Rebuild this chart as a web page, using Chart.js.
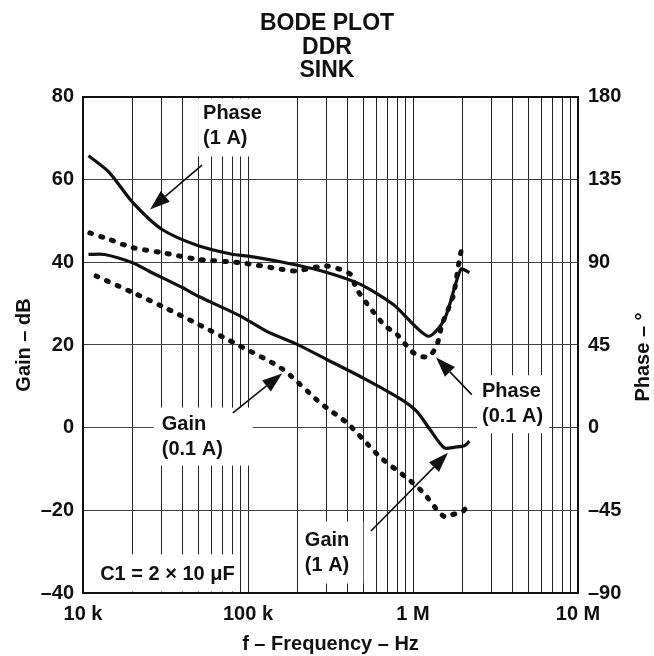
<!DOCTYPE html>
<html>
<head>
<meta charset="utf-8">
<script src="https://cdn.jsdelivr.net/npm/chart.js@4.4.1/dist/chart.umd.min.js"></script>
<style>
  html, body { margin: 0; padding: 0; background: #fff; }
  #wrap { width: 654px; height: 656px; }
</style>
</head>
<body>
<div id="wrap"><canvas id="bode" width="654" height="656"></canvas></div>
<script>
// values (frequency in Hz, gain in dB, phase in degrees)
const freqPhase1A = [10.8e3, 14.4e3, 20e3, 30e3, 50e3, 80e3, 100e3, 160e3, 280e3, 480e3, 760e3, 1.23e6, 1.55e6, 1.95e6, 2.2e6];
const phase1A = [148, 139, 122.6, 108, 99, 94.4, 93.4, 90.2, 85.3, 78, 67, 49.8, 58.9, 86.2, 84.4];

const freqPhase01A = [11e3, 14.4e3, 20e3, 30e3, 50e3, 90e3, 160e3, 195e3, 300e3, 420e3, 450e3, 570e3, 680e3, 800e3, 980e3, 1.1e6, 1.26e6, 1.4e6, 1.5e6, 1.75e6, 1.92e6, 2e6];
const phase01A = [106, 102.5, 98, 95.3, 91.6, 89.8, 86.2, 85.3, 88, 83.4, 76.2, 63.4, 55.3, 50.7, 41.6, 38.9, 38.9, 45.3, 56.2, 71.6, 92.6, 99.8];

const freqGain1A = [10.8e3, 13.5e3, 20e3, 25e3, 40e3, 50e3, 90e3, 130e3, 200e3, 300e3, 500e3, 820e3, 1.05e6, 1.27e6, 1.55e6, 1.8e6, 2.05e6, 2.2e6];
const gain1A = [41.9, 41.9, 39.9, 37.9, 33.9, 31.8, 27, 23.3, 20.1, 16.5, 12, 7.2, 4, -0.5, -4.9, -4.7, -4.4, -3.3];

const freqGain01A = [12e3, 20e3, 30e3, 50e3, 90e3, 160e3, 270e3, 300e3, 400e3, 500e3, 640e3, 920e3, 1.16e6, 1.4e6, 1.55e6, 1.7e6, 2e6, 2.18e6];
const gain01A = [36.7, 32.7, 29.4, 25, 19.7, 14.3, 6.2, 4.8, 1.1, -2.9, -7.3, -12.2, -15.8, -19.9, -21.5, -21.1, -20.3, -18.4];

const xTickValues = [1e4, 1e5, 1e6, 1e7];
const xTickLabels = ['10 k', '100 k', '1 M', '10 M'];

const FONT = "'Liberation Sans', Arial, sans-serif";
const LABEL_FONT = 'bold 20px ' + FONT;
const LINE_H = 25;

// callouts, placed in (frequency, gain dB) units
const notes = [
  { lines: ['Phase', '(1 A)'], at: [53.4e3, 75.9], pad: [5, 5, 14], arrow: [[52.6e3, 63.5], [25.5e3, 52.8]] },
  { lines: ['Phase', '(0.1 A)'], at: [2.62e6, 8.7], pad: [5, 4, 6], arrow: [[2.27e6, 8.0], [1.38e6, 17.0]] },
  { lines: ['Gain', '(0.1 A)'], at: [30e3, 0.85], pad: [8, 4, 30], arrow: [[81e3, 3.6], [161e3, 13.1]] },
  { lines: ['Gain', '(1 A)'], at: [221e3, -27.2], pad: [5, 6, 14], arrow: [[556e3, -25], [1.63e6, -6.1]] },
  { lines: ['C1 = 2 \u00d7 10 \u03bcF'], at: [12.7e3, -35.6], pad: [4, 8, 4] }
];

const dash = (v) => v < 0 ? '\u2013' + Math.abs(v) : '' + v;

function arrow(ctx, x0, y0, x1, y1) {
  const a = Math.atan2(y1 - y0, x1 - x0);
  const L = 20, W = 7;
  const bx = x1 - L * Math.cos(a), by = y1 - L * Math.sin(a);
  ctx.beginPath();
  ctx.moveTo(x0, y0);
  ctx.lineTo(bx, by);
  ctx.stroke();
  ctx.beginPath();
  ctx.moveTo(x1, y1);
  ctx.lineTo(bx + W * Math.sin(a), by - W * Math.cos(a));
  ctx.lineTo(bx - W * Math.sin(a), by + W * Math.cos(a));
  ctx.closePath();
  ctx.fill();
}

const notePlugin = {
  id: 'notes',
  beforeDatasetsDraw(chart) {
    const { ctx, chartArea: ca } = chart;
    const xs = chart.scales.x, ys = chart.scales.yGain;
    ctx.save();
    ctx.beginPath();
    ctx.rect(ca.left + 1.5, ca.top + 1.5, ca.right - ca.left - 3, ca.bottom - ca.top - 3);
    ctx.clip();
    ctx.font = LABEL_FONT;
    ctx.fillStyle = '#fff';
    notes.forEach(n => {
      const x = xs.getPixelForValue(n.at[0]);
      const y = ys.getPixelForValue(n.at[1]);
      const w = Math.max(...n.lines.map(t => ctx.measureText(t).width));
      ctx.fillRect(x - n.pad[0], y - LINE_H / 2 - n.pad[1],
        w + n.pad[0] + n.pad[2], n.lines.length * LINE_H + 2 * n.pad[1]);
    });
    ctx.restore();
  },
  afterDatasetsDraw(chart) {
    const { ctx } = chart;
    const xs = chart.scales.x, ys = chart.scales.yGain;
    ctx.save();
    ctx.font = LABEL_FONT;
    ctx.fillStyle = '#111';
    ctx.strokeStyle = '#111';
    ctx.lineWidth = 1.6;
    ctx.textAlign = 'left';
    ctx.textBaseline = 'middle';
    notes.forEach(n => {
      const x = xs.getPixelForValue(n.at[0]);
      const y = ys.getPixelForValue(n.at[1]);
      n.lines.forEach((t, i) => ctx.fillText(t, x, y + i * LINE_H));
      if (n.arrow) {
        const [p, q] = n.arrow;
        arrow(ctx, xs.getPixelForValue(p[0]), ys.getPixelForValue(p[1]),
          xs.getPixelForValue(q[0]), ys.getPixelForValue(q[1]));
      }
    });
    // right axis title reads bottom-to-top like the left one
    const ca = chart.chartArea;
    ctx.translate(643, (ca.top + ca.bottom) / 2 + 12);
    ctx.rotate(-Math.PI / 2);
    ctx.textAlign = 'center';
    ctx.fillText('Phase \u2013 \u00b0', 0, 0);
    ctx.restore();
  }
};

const toPoints = (xs, ys) => xs.map((f, i) => ({ x: f, y: ys[i] }));

Chart.defaults.font.family = FONT;
Chart.defaults.font.weight = 'bold';
Chart.defaults.color = '#111';

const solid = { borderColor: '#111', borderWidth: 3.2, tension: 0.25, borderJoinStyle: 'round' };
const dotted = { borderColor: '#111', borderWidth: 5, borderDash: [2, 9.5], borderCapStyle: 'round', tension: 0.25 };

new Chart(document.getElementById('bode'), {
  type: 'line',
  plugins: [notePlugin],
  data: {
    datasets: [
      { label: 'Phase (1 A)', data: toPoints(freqPhase1A, phase1A), yAxisID: 'yPhase', ...solid },
      { label: 'Phase (0.1 A)', data: toPoints(freqPhase01A, phase01A), yAxisID: 'yPhase', ...dotted },
      { label: 'Gain (1 A)', data: toPoints(freqGain1A, gain1A), yAxisID: 'yGain', ...solid },
      { label: 'Gain (0.1 A)', data: toPoints(freqGain01A, gain01A), yAxisID: 'yGain', ...dotted }
    ]
  },
  options: {
    responsive: false,
    animation: false,
    layout: { padding: 0 },
    elements: { point: { radius: 0 } },
    plugins: {
      legend: { display: false },
      tooltip: { enabled: false },
      title: {
        display: true,
        text: ['BODE PLOT', 'DDR', 'SINK'],
        font: { size: 23, weight: 'bold', lineHeight: 1.02 },
        color: '#111',
        padding: { top: 12, bottom: 14.6 }
      }
    },
    scales: {
      x: {
        type: 'logarithmic',
        min: 1e4,
        max: 1e7,
        afterBuildTicks(scale) {
          const t = [];
          for (let e = 4; e < 7; e++) {
            for (let m = 1; m < 10; m++) t.push({ value: m * Math.pow(10, e) });
          }
          t.push({ value: 1e7 });
          scale.ticks = t;
        },
        afterFit(scale) { scale.height = 63; },
        ticks: {
          autoSkip: false,
          maxRotation: 0,
          padding: 9,
          font: { size: 20, weight: 'bold' },
          callback(v) {
            const i = xTickValues.indexOf(v);
            return i >= 0 ? xTickLabels[i] : '';
          }
        },
        grid: { color: '#222', lineWidth: 1, drawTicks: false },
        border: { color: '#111', width: 2 },
        title: { display: true, text: 'f \u2013 Frequency \u2013 Hz', font: { size: 20, weight: 'bold' }, padding: 0 }
      },
      yGain: {
        position: 'left',
        min: -40,
        max: 80,
        afterFit(scale) { scale.width = 83; },
        ticks: { stepSize: 20, padding: 9, font: { size: 20, weight: 'bold' }, callback: dash },
        grid: {
          color: (c) => c.tick && c.tick.value === 80 ? '#111' : '#444',
          lineWidth: (c) => c.tick && c.tick.value === 80 ? 2 : 1,
          drawTicks: false
        },
        border: { color: '#111', width: 2 },
        title: { display: true, text: 'Gain \u2013 dB', font: { size: 20, weight: 'bold' }, padding: { top: 12, bottom: 0 } }
      },
      yPhase: {
        position: 'right',
        min: -90,
        max: 180,
        afterFit(scale) { scale.width = 76; },
        ticks: { stepSize: 45, padding: 10, font: { size: 20, weight: 'bold' }, callback: dash },
        grid: { display: false, drawTicks: false },
        border: { color: '#111', width: 2 }
      }
    }
  }
});
</script>
</body>
</html>
